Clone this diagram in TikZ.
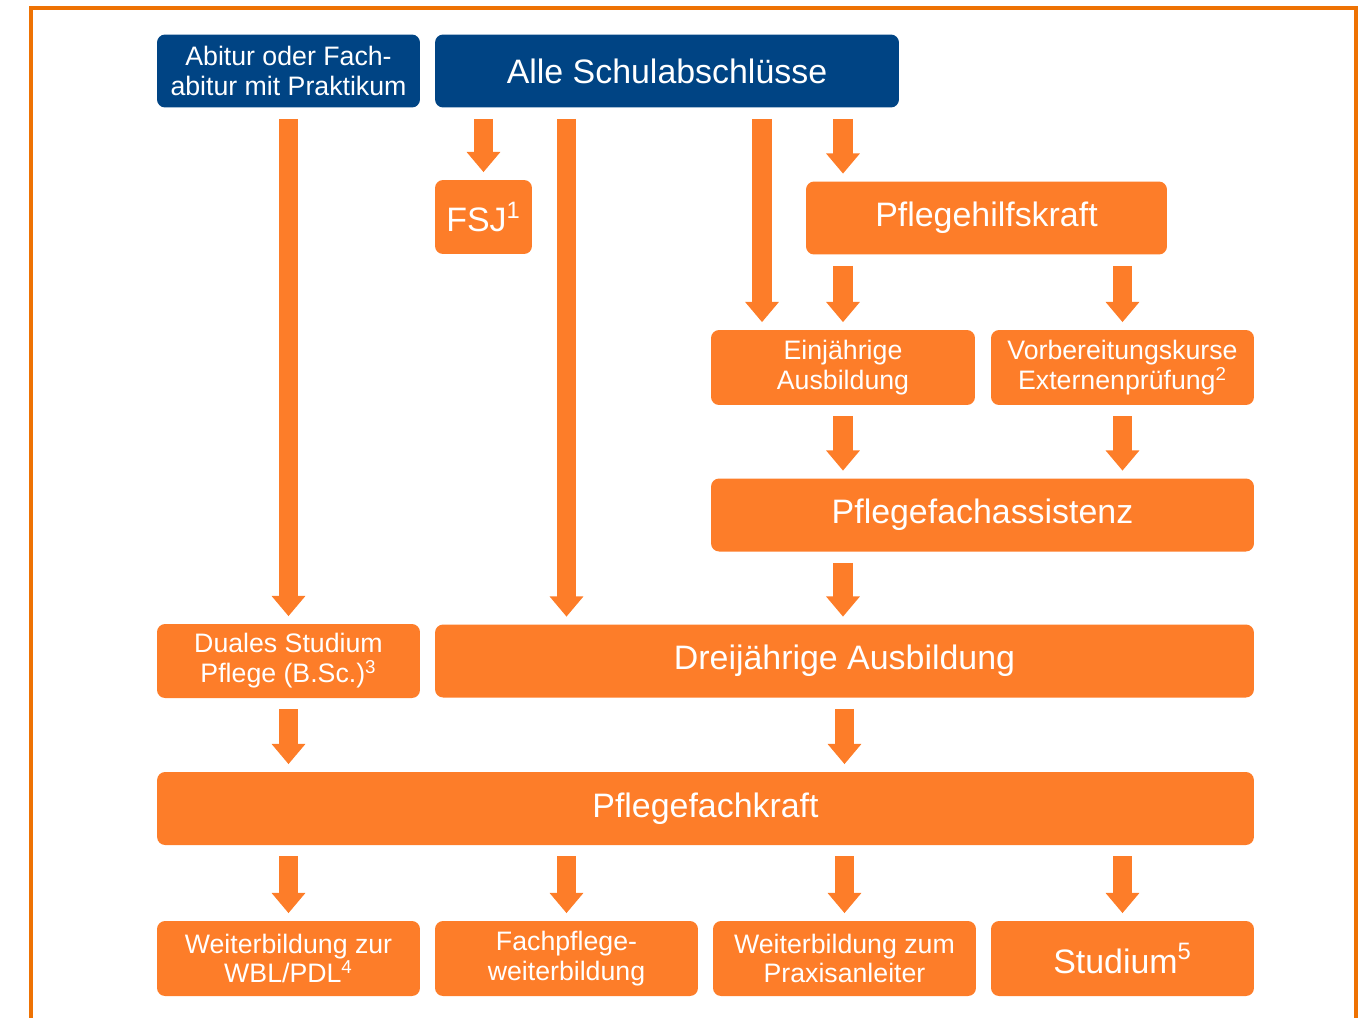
\documentclass[tikz,border=0pt]{standalone}
\usepackage{fontspec}
\setmainfont{Liberation Sans}
\usetikzlibrary{arrows.meta}

\definecolor{boxorange}{RGB}{253,125,41}
\definecolor{boxblue}{RGB}{0,68,132}
\definecolor{frameorange}{RGB}{238,114,3}

\tikzset{
  box/.style={rounded corners=0.16cm, fill=boxorange, text=white, inner sep=0pt,
    align=center, minimum width=5.26cm, minimum height=1.46cm,
    font=\fontsize{15.2}{17}\selectfont},
  bigbox/.style={box, font=\fontsize{19.3}{22}\selectfont},
  bluebox/.style={fill=boxblue},
  flow/.style={draw=boxorange, line width=11.3pt,
    -{Triangle[width=18.5pt, length=11.5pt]},
    shorten <=0.22cm, shorten >=0.15cm}
}

\begin{document}
\begin{tikzpicture}[x=0.02cm, y=-0.02cm]
 \useasboundingbox (0,0) rectangle (1367,1018);
 \draw [frameorange, line width=2.3pt] (31,1018) -- (31,8) -- (1356,8) -- (1356,1018);

 \node [box, bluebox] (abi) at (288.5,71) {Abitur oder Fach-\\abitur mit Praktikum};
 \node [bigbox, bluebox, minimum width=9.28cm] (alle) at (667,71) {Alle Schulabschlüsse};

 \node [bigbox, minimum width=1.94cm, minimum height=1.48cm] (fsj) at (483.5,217) {FSJ\textsuperscript{1}};
 \node [bigbox, minimum width=7.22cm] (phk) at (986.5,218) {Pflegehilfskraft};

 \node [box, minimum width=5.28cm, minimum height=1.5cm] (ein) at (843,367.5) {Einjährige\\Ausbildung};
 \node [box, minimum height=1.5cm] (vor) at (1122.5,367.5) {Vorbereitungskurse\\Externenprüfung\textsuperscript{2}};

 \node [bigbox, minimum width=10.86cm] (pfa) at (982.5,515) {Pflegefachassistenz};

 \node [box, minimum height=1.48cm] (dual) at (288.5,661) {Duales Studium\\Pflege (B.Sc.)\textsuperscript{3}};
 \node [bigbox, minimum width=16.38cm] (drei) at (844.5,661) {Dreijährige Ausbildung};

 \node [bigbox, minimum width=21.94cm] (pfk) at (705.5,808.5) {Pflegefachkraft};

 \node [box, minimum height=1.5cm] (wbl) at (288.5,958.5) {Weiterbildung zur\\WBL/PDL\textsuperscript{4}};
 \node [box, minimum height=1.5cm] (fach) at (566.5,958.5) {Fachpflege-\\weiterbildung};
 \node [box, minimum height=1.5cm] (pal) at (844.5,958.5) {Weiterbildung zum\\Praxisanleiter};
 \node [bigbox, minimum height=1.5cm] (stud) at (1122.5,958.5) {Studium\textsuperscript{5}};

 \coordinate (einL) at ([xshift=-1.62cm]ein.north);

 \draw [flow] (abi.south) -- (dual.north);
 \draw [flow] (alle.south -| fsj.north) -- (fsj.north);
 \draw [flow] (alle.south -| fach.north) -- (drei.north -| fach.north);
 \draw [flow] (alle.south -| einL) -- (einL);
 \draw [flow] (alle.south -| ein.north) -- (phk.north -| ein.north);

 \draw [flow] (phk.south -| ein.north) -- (ein.north);
 \draw [flow] (phk.south -| vor.north) -- (vor.north);
 \draw [flow] (ein.south) -- (pfa.north -| ein.south);
 \draw [flow] (vor.south) -- (pfa.north -| vor.south);
 \draw [flow] (pfa.south -| ein.south) -- (drei.north -| ein.south);

 \draw [flow] (dual.south) -- (pfk.north -| dual.south);
 \draw [flow] (drei.south) -- (pfk.north -| drei.south);

 \foreach \n in {wbl,fach,pal,stud}
  \draw [flow] (pfk.south -| \n.north) -- (\n.north);

\end{tikzpicture}
\end{document}
